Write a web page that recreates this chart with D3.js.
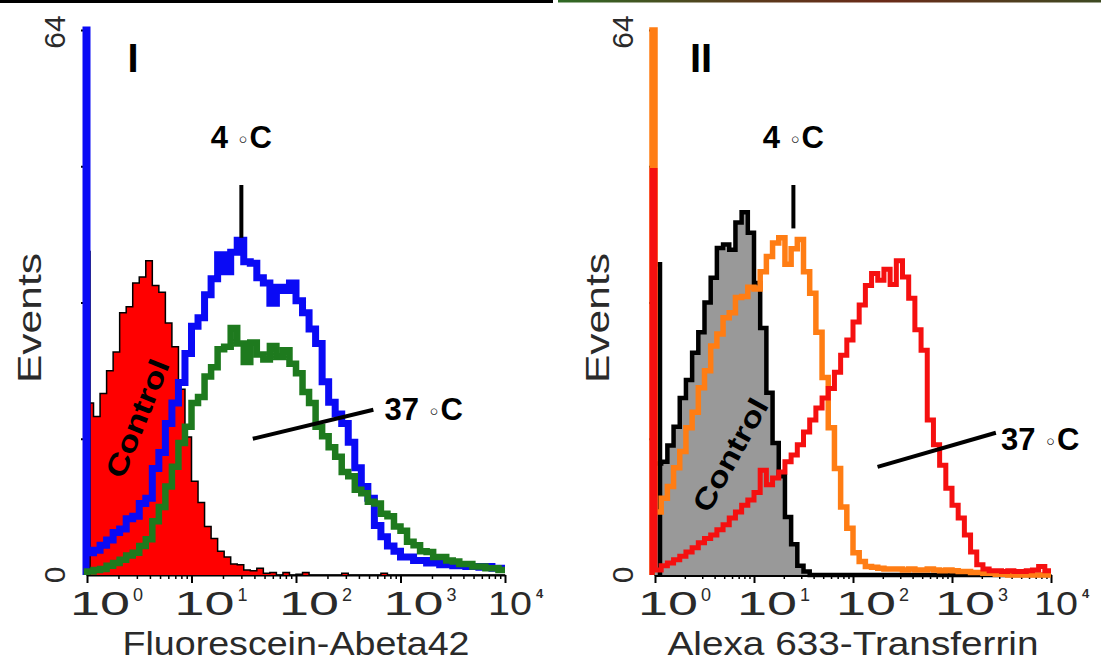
<!DOCTYPE html>
<html>
<head>
<meta charset="utf-8">
<script src="https://cdn.jsdelivr.net/npm/d3@7"></script>
<style>
  body { margin: 0; background: #fff; }
  svg { display: block; font-family: Arial, "Liberation Sans", sans-serif; }
</style>
</head>
<body>
<svg width="1101" height="668"></svg>
<script>
// Axis ticks
const decades = [1, 10, 100, 1000, 10000];
const decadeExps = ["0", "1", "2", "3", "4"];
const yTickValues = [16, 32, 48, 64];
const yEndLabels = [0, 64];

// 64 channels per panel, 1/16 decade each. Counts.
// The "spike" is the pile-up in channel 1, drawn on the axis.
const abetaControlSpike = 38;
const abetaControl = [20.2, 18.6, 21.3, 24.0, 26.2, 30.8, 31.5, 34.3, 35.0, 36.9,
  34.0, 33.2, 29.6, 26.8, 21.8, 16.2, 11.0, 8.5, 5.7, 4.3,
  2.8, 2.1, 1.3, 1.2, 0.6, 0.5, 0.8, 0.2, 0.3, 0,
  0.3, 0, 0.1, 0.3, 0, 0, 0, 0, 0, 0.2,
  0, 0, 0, 0, 0, 0.2, 0, 0, 0, 0,
  0, 0, 0, 0, 0, 0, 0, 0, 0, 0,
  0, 0, 0, 0];
const abeta4CSpike = 64;
const abeta4C = [2.6, 2.9, 3.5, 4.1, 5.0, 5.4, 6.6, 6.9, 8.4, 9.0,
  12.5, 14.4, 17.8, 20.2, 22.6, 26.0, 29.2, 30.2, 32.9, 34.8,
  37.6, 35.6, 37.9, 39.3, 36.8, 36.6, 34.9, 34.3, 31.9, 33.8,
  33.4, 34.3, 32.2, 30.8, 28.9, 27.2, 22.7, 20.3, 18.9, 17.8,
  15.6, 12.6, 10.4, 9.0, 5.8, 4.5, 3.4, 2.8, 2.1, 2.1,
  1.7, 1.7, 1.4, 1.5, 1.2, 1.3, 1.1, 1.2, 1.0, 1.0,
  0.9, 1.0, 0.8, 0.8];
const abeta37CSpike = 0;
const abeta37C = [0.4, 0.6, 0.7, 1.1, 1.4, 1.8, 2.3, 2.6, 3.4, 4.2,
  6.3, 8.0, 10.4, 12.7, 15.5, 17.4, 20.2, 20.9, 23.3, 24.4,
  26.5, 26.8, 29.0, 27.2, 25.0, 27.3, 25.9, 25.3, 26.9, 25.6,
  26.4, 24.8, 23.7, 21.5, 20.2, 17.4, 16.3, 15.0, 13.9, 12.1,
  11.6, 10.0, 9.6, 8.6, 8.4, 7.2, 6.9, 5.7, 5.2, 3.9,
  3.5, 2.8, 2.7, 2.1, 2.1, 1.7, 1.6, 1.3, 1.3, 1.0,
  1.0, 0.8, 0.8, 0.6];

const tfControlSpike = 36.5;
const tfControl = [13.1, 13.3, 15.2, 17.4, 20.8, 22.9, 26.1, 28.5, 32.0, 34.9,
  38.4, 38.8, 38.2, 41.4, 42.6, 40.2, 34.3, 29.0, 21.4, 15.5,
  11.6, 6.8, 3.6, 1.1, 0.4, 0, 0, 0, 0, 0,
  0, 0, 0, 0, 0, 0, 0, 0, 0, 0,
  0, 0, 0, 0, 0, 0, 0, 0, 0, 0,
  0, 0, 0, 0, 0, 0, 0, 0, 0, 0,
  0, 0, 0, 0];
const tf4CSpike = 64;
const tf4C = [7.4, 9.0, 10.4, 12.6, 14.5, 17.3, 19.1, 22.0, 24.0, 26.9,
  28.3, 30.2, 30.8, 32.6, 32.7, 33.8, 33.6, 35.6, 37.4, 39.0,
  39.6, 36.5, 38.3, 39.4, 35.6, 33.1, 28.5, 23.2, 17.3, 12.5,
  8.0, 5.5, 2.6, 1.6, 1.0, 0.9, 0.8, 0.7, 0.7, 0.7,
  0.6, 0.7, 0.6, 0.6, 0.7, 0.6, 0.5, 0.6, 0.5, 0.4,
  0.4, 0.3, 0.3, 0.2, 0.2, 0.1, 0.1, 0, 0, 0,
  0, 0, 0, 0];
const tf37CSpike = 47.5;
const tf37C = [0.6, 1.1, 1.4, 1.8, 2.2, 2.7, 3.2, 3.8, 4.3, 4.7,
  5.3, 5.9, 6.7, 7.4, 8.2, 8.8, 9.7, 12.3, 10.6, 11.4,
  12.1, 13.3, 14.1, 15.3, 16.8, 18.2, 19.6, 20.8, 21.9, 23.8,
  25.8, 27.6, 29.7, 31.7, 34.0, 35.4, 34.6, 35.9, 34.1, 36.9,
  35.0, 32.5, 28.8, 26.4, 18.2, 15.3, 12.9, 10.2, 8.2, 6.7,
  4.7, 2.7, 1.2, 0.7, 0.5, 0.5, 0.4, 0.5, 0.4, 0.4,
  0.5, 0.6, 1.0, 0.5];

const svg = d3.select("svg");

// strips left over from the figure above
svg.append("rect").attr("x", 0).attr("y", 0).attr("width", 553).attr("height", 3).attr("fill", "#000");
const grad = svg.append("defs").append("linearGradient").attr("id", "topstrip");
[["0%", "#2f6a25"], ["35%", "#5a3a1c"], ["60%", "#6b2a18"], ["100%", "#3d4a22"]].forEach(s =>
  grad.append("stop").attr("offset", s[0]).attr("stop-color", s[1]));
svg.append("rect").attr("x", 558).attr("y", 0).attr("width", 543).attr("height", 2.5).attr("fill", "url(#topstrip)");

const panels = [
  {
    roman: "I", x0: 87, x1: 505, xTitle: "Fluorescein-Abeta42", xTitleLen: 347,
    xAxisWidth: 2,
    fill: {counts: abetaControl, spike: abetaControlSpike, color: "#ff0000", stroke: "#000", width: 1.5, dx: 3},
    lines: [
      {counts: abeta4C, spike: abeta4CSpike, color: "#0a0af5", width: 7, dx: -1},
      {counts: abeta37C, spike: abeta37CSpike, color: "#1e7a1e", width: 6.5, dx: 0}
    ],
    mark4: {x: 30, yTop: 45.8, yBot: 39.6, yText: 50.1},
    mark37: {x1: 38.6, y1: 16.0, x2: 550, y2: 19.4, xText: 702, yText: 18.2},
    control: {x: 3.03, y: 18.4, angle: -68}
  },
  {
    roman: "II", x0: 655, x1: 1051, xTitle: "Alexa 633-Transferrin", xTitleLen: 371,
    xAxisWidth: 3,
    fill: {counts: tfControl, spike: tfControlSpike, color: "#999999", stroke: "#000", width: 4.5, dx: 5},
    lines: [
      {counts: tf4C, spike: tf4CSpike, color: "#ff7d14", width: 5.5, dx: -3},
      {counts: tf37C, spike: tf37CSpike, color: "#f51010", width: 5, dx: -3}
    ],
    mark4: {x: 25, yTop: 45.8, yBot: 40.7, yText: 50.1},
    mark37: {x1: 177, y1: 12.7, x2: 2775, y2: 16.7, xText: 3119, yText: 14.7},
    control: {x: 5.75, y: 14.1, angle: -61}
  }
];

const y = d3.scaleLinear().domain([0, 64]).range([575, 30]);

function points(counts, spike) {
  // channel edges at 10^(i/16); third field marks the axis spike
  const pts = [[1, 0, "s"], [1, spike, "s"]];
  counts.forEach((c, i) => pts.push([Math.pow(10, i / 16), c]));
  pts.push([1e4, counts[counts.length - 1]]);
  return pts;
}

panels.forEach(p => {
  const x = d3.scaleLog().domain([1, 1e4]).range([p.x0, p.x1]);
  const g = svg.append("g");

  // y axis
  const ya = g.append("g").attr("transform", `translate(${p.x0},0)`)
    .call(d3.axisLeft(y).tickValues(yTickValues).tickSize(6).tickSizeOuter(0).tickFormat(""));
  ya.select(".domain").attr("stroke", "#000").attr("stroke-width", 3);
  ya.selectAll(".tick line").attr("stroke", "#000").attr("stroke-width", 2);

  // x axis: minor then major ticks
  const minor = [];
  for (let e = 0; e < 4; e++) for (let m = 2; m < 10; m++) minor.push(m * Math.pow(10, e));
  const xm = g.append("g").attr("transform", `translate(0,${y(0)})`)
    .call(d3.axisBottom(x).tickValues(minor).tickSize(4).tickSizeOuter(0).tickFormat(""));
  xm.select(".domain").attr("stroke", "#000").attr("stroke-width", p.xAxisWidth);
  xm.selectAll(".tick line").attr("stroke", "#000").attr("stroke-width", 1.5);
  const xM = g.append("g").attr("transform", `translate(0,${y(0)})`)
    .call(d3.axisBottom(x).tickValues(decades).tickSize(8).tickSizeOuter(0).tickFormat(""));
  xM.select(".domain").remove();
  xM.selectAll(".tick line").attr("stroke", "#000").attr("stroke-width", 2);

  // data
  const f = p.fill;
  const area = d3.area().curve(d3.curveStepAfter)
    .x(d => x(d[0])).y0(y(0)).y1(d => y(d[1]));
  g.append("path").datum(points(f.counts, 0).slice(2))
    .attr("d", area).attr("fill", f.color);
  const mkLine = dx => d3.line().curve(d3.curveStepAfter)
    .x(d => x(d[0]) + (d[2] ? dx : 0)).y(d => y(d[1]));
  g.append("path").datum(points(f.counts, f.spike))
    .attr("d", mkLine(f.dx)).attr("fill", "none").attr("stroke", f.stroke)
    .attr("stroke-width", f.width).attr("stroke-linejoin", "miter");
  p.lines.forEach(s => {
    g.append("path").datum(points(s.counts, s.spike))
      .attr("d", mkLine(s.dx)).attr("fill", "none").attr("stroke", s.color)
      .attr("stroke-width", s.width).attr("stroke-linejoin", "miter");
  });

  // tick labels (the last one is squeezed against the edge in the original)
  decades.forEach((v, i) => {
    const last = i === decades.length - 1;
    g.append("text").attr("x", x(v) - 17).attr("y", 615)
      .attr("font-size", 33).attr("fill", "#2a2a2a")
      .attr("textLength", last ? 44 : 60).attr("lengthAdjust", "spacingAndGlyphs").text("10");
    g.append("text").attr("x", x(v) + (last ? 31 : 46)).attr("y", last ? 598 : 601)
      .attr("font-size", last ? 13 : 18).attr("font-weight", last ? "bold" : "normal")
      .attr("fill", "#2a2a2a").text(decadeExps[i]);
  });
  yEndLabels.forEach(v => {
    g.append("text").attr("transform", `translate(${p.x0 - 33},${y(v) + (v ? 2 : 0)}) rotate(-90)`)
      .attr("text-anchor", "middle").attr("dy", "0.36em")
      .attr("font-size", 30).attr("fill", "#2a2a2a").text(v);
  });

  // axis titles
  g.append("text").attr("transform", `translate(${p.x0 - 46},318) rotate(-90)`)
    .attr("text-anchor", "middle").attr("font-size", 33).attr("fill", "#2a2a2a")
    .attr("textLength", 130).attr("lengthAdjust", "spacingAndGlyphs").text("Events");
  g.append("text").attr("x", (p.x0 + p.x1) / 2).attr("y", 655)
    .attr("text-anchor", "middle").attr("font-size", 33).attr("fill", "#2a2a2a")
    .attr("textLength", p.xTitleLen).attr("lengthAdjust", "spacingAndGlyphs").text(p.xTitle);

  // panel numeral
  g.append("text").attr("x", p.x0 + 46).attr("y", 72)
    .attr("font-size", 40).attr("font-weight", "bold").attr("text-anchor", "middle").text(p.roman);

  // 4 °C marker
  const m4 = p.mark4;
  g.append("line").attr("x1", x(m4.x)).attr("x2", x(m4.x))
    .attr("y1", y(m4.yTop)).attr("y2", y(m4.yBot))
    .attr("stroke", "#000").attr("stroke-width", 4);
  const t4 = g.append("text").attr("x", x(m4.x)).attr("y", y(m4.yText))
    .attr("text-anchor", "middle").attr("font-size", 31).attr("font-weight", "bold");
  t4.append("tspan").text("4 ");
  t4.append("tspan").attr("font-weight", "normal").attr("font-size", 22).attr("font-family", "DejaVu Sans").text("◦");
  t4.append("tspan").text("C");

  // 37 °C marker
  const m37 = p.mark37;
  g.append("line").attr("x1", x(m37.x1)).attr("y1", y(m37.y1))
    .attr("x2", x(m37.x2)).attr("y2", y(m37.y2))
    .attr("stroke", "#000").attr("stroke-width", 4);
  const t37 = g.append("text").attr("x", x(m37.xText)).attr("y", y(m37.yText))
    .attr("font-size", 31).attr("font-weight", "bold");
  t37.append("tspan").text("37 ");
  t37.append("tspan").attr("font-weight", "normal").attr("font-size", 22).attr("font-family", "DejaVu Sans").text("◦");
  t37.append("tspan").text("C");

  // Control label
  const c = p.control;
  g.append("text").attr("transform", `translate(${x(c.x)},${y(c.y)}) rotate(${c.angle})`)
    .attr("text-anchor", "middle").attr("dy", "0.35em")
    .attr("font-size", 29).attr("font-weight", "bold")
    .attr("textLength", 125).attr("lengthAdjust", "spacingAndGlyphs").text("Control");
});
</script>
</body>
</html>
